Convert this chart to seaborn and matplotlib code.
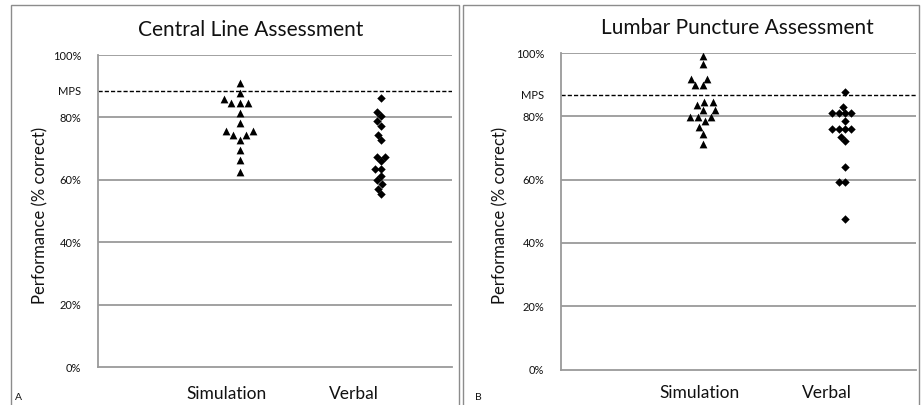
import matplotlib
matplotlib.use("Agg")
import matplotlib.pyplot as plt
import seaborn as sns
import pandas as pd
from matplotlib.patches import Rectangle

sns.set_theme(style="white")
plt.rcParams['font.family'] = ['Lato', 'DejaVu Sans']

categories = ["Simulation", "Verbal"]

# Central Line Assessment (panel A)
cl_simulation = [91.1, 87.9, 85.8, 84.5, 84.5, 84.5, 81.4, 78.2, 75.6, 75.6,
                 74.3, 74.3, 72.8, 69.6, 66.3, 62.6]
cl_verbal = [86.1, 81.8, 80.4, 78.8, 77.3, 74.4, 72.8, 67.4, 67.4, 66.0,
             63.5, 63.5, 61.3, 59.9, 58.6, 57.1, 55.5]
cl_mps = 88.5

# Lumbar Puncture Assessment (panel B)
lp_simulation = [99.0, 96.5, 91.9, 91.9, 89.8, 89.8, 84.4, 83.5, 84.4, 81.9,
                 81.9, 79.8, 79.8, 79.8, 78.4, 76.5, 74.3, 71.4]
lp_verbal = [87.7, 82.8, 81.0, 81.0, 81.0, 81.0, 78.4, 76.0, 76.0, 76.0,
             76.0, 73.5, 72.1, 64.0, 59.3, 59.3, 47.4]
lp_mps = 86.8

ytick_values = [0, 20, 40, 60, 80, 100]
ytick_labels = ["0%", "20%", "40%", "60%", "80%", "100%"]

titles = ["Central Line Assessment", "Lumbar Puncture Assessment"]
ylabel = "Performance (% correct)"
panel_letters = ["A", "B"]

fig = plt.figure(figsize=(9.22, 4.05), dpi=100)
W, H = 922, 405

def fx(px):
    return px / W

def fy(py):
    return 1 - py / H

# panel borders
for (x0, x1) in [(11, 459), (463, 919)]:
    fig.patches.append(Rectangle((fx(x0), fy(420)), fx(x1 - x0), fy(5) - fy(420),
                                 transform=fig.transFigure, fill=False,
                                 edgecolor="#8c8c8c", linewidth=1.0))

axes_px = [(98, 55, 452, 367), (561, 53, 916, 369.5)]
panels = [(cl_simulation, cl_verbal, cl_mps), (lp_simulation, lp_verbal, lp_mps)]
title_pos = [(251, 30), (737, 28)]
cat_label_pos = [[(227, 394), (354, 394)], [(700, 393), (827, 393)]]
ylabel_x = [40, 500]
letter_pos = [(18, 397), (478, 397)]

for i, ((l, t, r, b), (sim, verb, mps)) in enumerate(zip(axes_px, panels)):
    ax = fig.add_axes([fx(l), fy(b), fx(r - l), fy(t) - fy(b)])
    df_s = pd.DataFrame({"group": ["Simulation"] * len(sim), "score": sim})
    df_v = pd.DataFrame({"group": ["Verbal"] * len(verb), "score": verb})
    sns.swarmplot(data=df_s, x="group", y="score", order=categories, marker="^",
                  color="black", size=5.6, linewidth=0, ax=ax)
    sns.swarmplot(data=df_v, x="group", y="score", order=categories, marker="D",
                  color="black", size=4.3, linewidth=0, ax=ax)
    ax.set_xlim(-1.0, 1.5)
    ax.set_ylim(0, 100)
    for v in ytick_values[1:]:
        ax.axhline(v, color="#9a9a9a", linewidth=1.3, zorder=0)
    ax.axhline(mps, color="black", linewidth=1.0, linestyle=(0, (3, 1.5)), zorder=1)
    ax.set_yticks(ytick_values + [mps])
    ax.set_yticklabels(ytick_labels + ["MPS"], fontsize=8, color="#111111")
    ax.tick_params(axis="y", length=0, pad=12)
    ax.set_xticks([])
    ax.set_xlabel("")
    ax.set_ylabel("")
    for s in ["top", "right"]:
        ax.spines[s].set_visible(False)
    ax.spines["left"].set_color("#9a9a9a")
    ax.spines["bottom"].set_color("#9a9a9a")
    ax.spines["left"].set_linewidth(1.3)
    ax.spines["bottom"].set_linewidth(1.3)
    ax.set_facecolor("white")

    fig.text(fx(title_pos[i][0]), fy(title_pos[i][1]), titles[i], ha="center",
             va="center", fontsize=15, color="#111111")
    for lab, (px, py) in zip(categories, cat_label_pos[i]):
        fig.text(fx(px), fy(py), lab, ha="center", va="center", fontsize=12.5,
                 color="#111111")
    fig.text(fx(ylabel_x[i]), fy(215), ylabel, rotation=90, ha="center",
             va="center", fontsize=12, color="#111111")
    fig.text(fx(letter_pos[i][0]), fy(letter_pos[i][1]), panel_letters[i],
             ha="center", va="center", fontsize=7.5, color="#111111")

fig.savefig("out.png", dpi=100, facecolor="white")
